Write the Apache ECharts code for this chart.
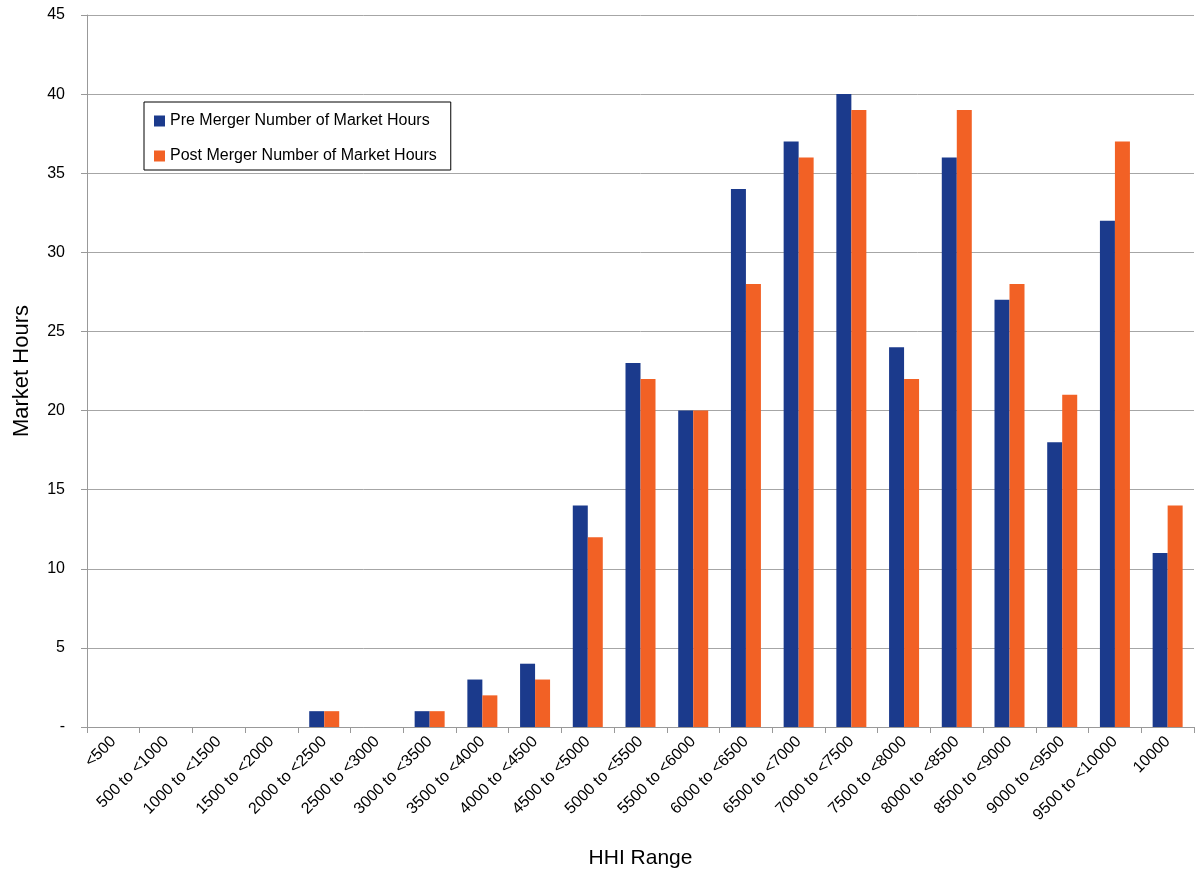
<!DOCTYPE html>
<html><head><meta charset="utf-8">
<script src="https://cdn.jsdelivr.net/npm/echarts@6/dist/echarts.min.js"></script>
<style>html,body{margin:0;padding:0;background:#fff}#c{width:1202px;height:877px}</style>
</head><body><div id="c"></div>
<script>
const categories = ['<500','500 to <1000','1000 to <1500','1500 to <2000','2000 to <2500','2500 to <3000','3000 to <3500','3500 to <4000','4000 to <4500','4500 to <5000','5000 to <5500','5500 to <6000','6000 to <6500','6500 to <7000','7000 to <7500','7500 to <8000','8000 to <8500','8500 to <9000','9000 to <9500','9500 to <10000','10000'];
const preMerger = [0,0,0,0,1,0,1,3,4,14,23,20,34,37,40,24,36,27,18,32,11];
const postMerger = [0,0,0,0,1,0,1,2,3,12,22,20,28,36,39,22,39,28,21,37,14];
const seriesNames = ['Pre Merger Number of Market Hours','Post Merger Number of Market Hours'];
const font = '"Liberation Sans", Arial, sans-serif';
const chart = echarts.init(document.getElementById('c'));
chart.setOption({
  animation:false,
  backgroundColor:'#fff',
  color:['#1B3A8C','#F26125'],
  grid:{left:87,right:8,top:15,bottom:150,containLabel:false,outerBoundsMode:'none'},
  legend:{
    orient:'vertical',left:144,top:102,
    borderColor:'#000',borderWidth:1,
    padding:[11,14,6,10],itemGap:19,
    itemWidth:11,itemHeight:11,icon:'rect',
    textStyle:{fontFamily:font,fontSize:16,color:'#000'},
    data:seriesNames
  },
  xAxis:{
    type:'category',data:categories,
    name:'HHI Range',nameLocation:'middle',nameGap:121,
    nameTextStyle:{fontFamily:font,fontSize:21,color:'#000'},
    axisLine:{lineStyle:{color:'#999',width:1}},
    axisTick:{show:true,length:6,lineStyle:{color:'#999'}},
    axisLabel:{rotate:45,interval:0,fontFamily:font,fontSize:16,color:'#000',margin:12}
  },
  yAxis:{
    type:'value',min:0,max:45,interval:5,
    name:'Market Hours',nameLocation:'middle',nameGap:54,
    nameTextStyle:{fontFamily:font,fontSize:22,color:'#000'},
    axisLine:{show:true,lineStyle:{color:'#999',width:1}},
    axisTick:{show:true,length:6,lineStyle:{color:'#999'}},
    splitLine:{lineStyle:{color:'#A6A6A6',width:1}},
    axisLabel:{fontFamily:font,fontSize:16,color:'#000',margin:22,
      formatter:v=>v===0?'-':String(v)}
  },
  series:[
    {name:seriesNames[0],type:'bar',data:preMerger,barWidth:15,barGap:'0%'},
    {name:seriesNames[1],type:'bar',data:postMerger,barWidth:15,barGap:'0%'}
  ]
});
</script></body></html>
